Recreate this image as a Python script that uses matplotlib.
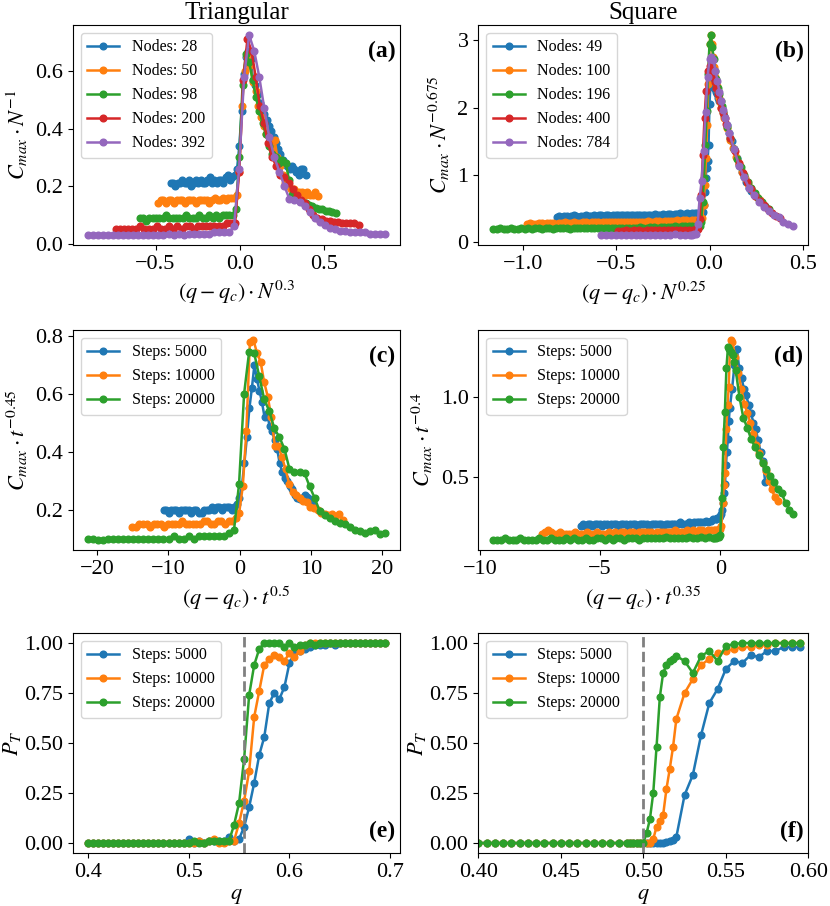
import numpy as np
import matplotlib
matplotlib.use("Agg")
import matplotlib.pyplot as plt

plt.rcParams["font.family"] = "serif"
plt.rcParams["font.serif"] = ["Liberation Serif", "DejaVu Serif"]
plt.rcParams["mathtext.fontset"] = "stix"

# ---- q grids (in thousandths) ----
Q_TRI = np.array([
    400, 405, 410, 415, 420, 425, 430, 435, 440, 445,
    450, 455, 460, 465, 470, 475, 480, 485, 490, 495,
    500, 505, 510, 515, 520, 525, 530, 535, 540, 545,
    550, 555, 560, 565, 570, 575, 580, 585, 590, 595,
    600, 605, 610, 615, 620, 625, 630, 635, 640, 645,
    650, 655, 660, 665, 670, 675, 680, 685, 690, 695]) / 1000

Q_SQ_STEPS = np.array([
    205, 210, 215, 220, 225, 230, 235, 240, 245, 250,
    255, 260, 265, 270, 275, 280, 285, 290, 295, 300,
    305, 310, 315, 320, 325, 330, 335, 340, 345, 350,
    355, 360, 365, 370, 375, 380, 385, 390, 395, 400,
    405, 410, 415, 420, 425, 430, 435, 440, 445, 450,
    455, 460, 465, 470, 475, 480, 485,
    490, 492, 494, 496, 498, 500, 502, 504, 506, 508, 510, 512, 514, 516, 518, 520,
    525, 530, 535, 540, 545, 550, 555, 560, 565, 570, 575, 580, 585, 590, 595]) / 1000

Q_SQ_SMALL = np.array([
    190, 195, 200, 205, 210, 215, 220, 225, 230, 235,
    240, 245, 250, 255, 260, 265, 270, 275, 280, 285,
    290, 295, 300, 305, 310, 315, 320, 325, 330, 335,
    340, 345, 350, 355, 360, 365, 370, 375, 380, 385,
    390, 395, 400, 405, 410, 415, 420, 425, 430, 435,
    440, 445, 450, 455, 460, 465, 470, 475,
    480, 482, 484, 486, 488, 490, 492, 494, 496, 498, 500,
    502, 504, 506, 508, 510, 512, 514, 516, 518, 520,
    525, 530, 535, 540, 545, 550, 555, 560, 565, 570, 575, 580, 585]) / 1000

Q_SQ_LARGE = np.array([
    390, 395, 400, 405, 410, 415, 420, 425, 430, 435,
    440, 445, 450, 455, 460, 465, 470, 475,
    480, 482, 484, 486, 488, 490, 492, 494, 496, 498, 500,
    502, 504, 506, 508, 510, 512, 514, 516, 518, 520,
    525, 530, 535, 540, 545, 550, 555, 560, 565, 570, 575, 580, 585]) / 1000

QC_TRI = 0.5505
QC_SQ = 0.5
QLINE_TRI = 0.555
QLINE_SQ = 0.5

NODES_TRI = [28, 50, 98, 200, 392]
NODES_SQ = [49, 100, 196, 400, 784]
STEPS = [5000, 10000, 20000]

# ---- (a) triangular, node scaling ----
A28 = [0.21, 0.21, 0.20, 0.21, 0.21, 0.22, 0.21, 0.21, 0.22, 0.20,
       0.21, 0.22, 0.21, 0.22, 0.21, 0.21, 0.22, 0.23, 0.21, 0.22,
       0.21, 0.22, 0.22, 0.21, 0.23, 0.24, 0.22, 0.23, 0.24, 0.26,
       0.34, 0.46, 0.59, 0.65, 0.67, 0.64, 0.57, 0.55, 0.52, 0.49,
       0.46, 0.45, 0.43, 0.41, 0.39, 0.37, 0.35, 0.33, 0.31, 0.29,
       0.28, 0.27, 0.26, 0.27, 0.26, 0.25, 0.24, 0.26, 0.26, 0.24]
A50 = [0.14, 0.15, 0.15, 0.14, 0.15, 0.15, 0.14, 0.15, 0.15, 0.15,
       0.14, 0.15, 0.15, 0.15, 0.14, 0.15, 0.15, 0.15, 0.15, 0.14,
       0.15, 0.16, 0.15, 0.15, 0.16, 0.15, 0.16, 0.16, 0.16, 0.17,
       0.25, 0.48, 0.60, 0.65, 0.62, 0.56, 0.53, 0.48, 0.44, 0.41,
       0.38, 0.35, 0.33, 0.36, 0.30, 0.27, 0.24, 0.21, 0.20, 0.19,
       0.19, 0.18, 0.18, 0.18, 0.17, 0.18, 0.17, 0.17, 0.18, 0.165]
A98 = [0.09, 0.09, 0.08, 0.09, 0.09, 0.09, 0.09, 0.09, 0.10, 0.09,
       0.09, 0.09, 0.09, 0.09, 0.10, 0.09, 0.09, 0.09, 0.10, 0.09,
       0.09, 0.10, 0.09, 0.10, 0.09, 0.10, 0.10, 0.10, 0.10, 0.12,
       0.30, 0.55, 0.66, 0.63, 0.57, 0.51, 0.46, 0.42, 0.38, 0.34,
       0.31, 0.30, 0.28, 0.29, 0.28, 0.22, 0.17, 0.16, 0.15, 0.145,
       0.14, 0.135, 0.13, 0.125, 0.12, 0.12, 0.115, 0.115, 0.11, 0.105]
A200 = [0.05, 0.05, 0.05, 0.05, 0.05, 0.05, 0.06, 0.05, 0.05, 0.05,
        0.06, 0.05, 0.05, 0.06, 0.05, 0.06, 0.05, 0.06, 0.06, 0.05,
        0.06, 0.06, 0.06, 0.06, 0.06, 0.06, 0.06, 0.07, 0.07, 0.07,
        0.25, 0.57, 0.71, 0.67, 0.58, 0.48, 0.42, 0.35, 0.30, 0.27,
        0.24, 0.23, 0.21, 0.19, 0.17, 0.15, 0.14, 0.12, 0.10, 0.09,
        0.085, 0.08, 0.08, 0.075, 0.075, 0.07, 0.07, 0.07, 0.07, 0.065]
A392 = [0.03, 0.03, 0.03, 0.03, 0.03, 0.03, 0.03, 0.03, 0.03, 0.03,
        0.03, 0.03, 0.03, 0.03, 0.03, 0.03, 0.035, 0.03, 0.035, 0.03,
        0.035, 0.035, 0.035, 0.035, 0.035, 0.04, 0.04, 0.04, 0.04, 0.06,
        0.26, 0.58, 0.725, 0.67, 0.58, 0.47, 0.37, 0.30, 0.25, 0.20,
        0.155, 0.15, 0.145, 0.13, 0.11, 0.09, 0.075, 0.065, 0.055, 0.05,
        0.045, 0.045, 0.04, 0.04, 0.04, 0.04, 0.035, 0.035, 0.035, 0.035]

# ---- (b) square, node scaling ----
B49 = [0.38, 0.39, 0.38, 0.39, 0.39, 0.38, 0.39, 0.40, 0.39, 0.38,
       0.39, 0.39, 0.40, 0.39, 0.39, 0.40, 0.39, 0.40, 0.40, 0.39,
       0.40, 0.40, 0.39, 0.40, 0.40, 0.41, 0.40, 0.40, 0.41, 0.40,
       0.41, 0.40, 0.41, 0.41, 0.40, 0.41, 0.41, 0.40, 0.41, 0.41,
       0.42, 0.41, 0.41, 0.42, 0.41, 0.42, 0.42, 0.41, 0.42, 0.42,
       0.43, 0.42, 0.42, 0.43, 0.42, 0.43, 0.43, 0.43,
       0.43, 0.43, 0.44, 0.45, 0.55, 0.75, 0.96, 1.10, 1.21, 1.44, 2.06,
       2.36, 2.42, 2.38, 2.33, 2.30, 2.28, 2.24, 2.20, 2.15, 2.10,
       2.00, 1.88, 1.75, 1.62, 1.50, 1.38, 1.26, 1.15, 1.05, 0.97, 0.89, 0.81, 0.76]
B100 = [0.28, 0.29, 0.28, 0.28, 0.29, 0.29, 0.28, 0.29, 0.29, 0.29,
        0.28, 0.29, 0.29, 0.30, 0.29, 0.29, 0.30, 0.29, 0.29, 0.30,
        0.30, 0.29, 0.30, 0.30, 0.30, 0.29, 0.30, 0.30, 0.31, 0.30,
        0.30, 0.31, 0.30, 0.31, 0.31, 0.30, 0.31, 0.31, 0.31, 0.31,
        0.31, 0.32, 0.31, 0.31, 0.32, 0.32, 0.31, 0.32, 0.32, 0.32,
        0.32, 0.33, 0.32, 0.33, 0.33, 0.32, 0.33, 0.33,
        0.33, 0.33, 0.34, 0.34, 0.36, 0.55, 0.85, 1.25, 1.75, 2.35, 2.95,
        3.08, 2.95, 2.75, 2.60, 2.45, 2.33, 2.25, 2.15, 2.08, 2.00,
        1.85, 1.70, 1.52, 1.40, 1.27, 1.16, 1.05, 0.96, 0.87, 0.80, 0.74, 0.68, 0.63]
B196 = [0.20, 0.20, 0.21, 0.20, 0.20, 0.21, 0.20, 0.20, 0.21, 0.20,
        0.21, 0.20, 0.21, 0.21, 0.20, 0.21, 0.21, 0.20, 0.21, 0.21,
        0.21, 0.21, 0.20, 0.21, 0.21, 0.21, 0.22, 0.21, 0.21, 0.22,
        0.21, 0.22, 0.22, 0.21, 0.22, 0.22, 0.22, 0.21, 0.22, 0.22,
        0.22, 0.22, 0.23, 0.22, 0.22, 0.23, 0.23, 0.22, 0.23, 0.23,
        0.23, 0.23, 0.24, 0.23, 0.24, 0.24, 0.24, 0.24,
        0.24, 0.24, 0.25, 0.25, 0.30, 0.60, 0.95, 1.45, 1.95, 2.50, 2.95,
        3.08, 2.90, 2.72, 2.55, 2.42, 2.30, 2.20, 2.10, 2.02, 1.94,
        1.72, 1.55, 1.38, 1.24, 1.12, 1.00, 0.90, 0.81, 0.73, 0.66, 0.60, 0.54, 0.49]
B400 = [0.17, 0.17, 0.18, 0.17, 0.18, 0.18, 0.17, 0.18, 0.18, 0.18,
        0.18, 0.18, 0.19, 0.18, 0.18, 0.19, 0.19, 0.19,
        0.19, 0.19, 0.20, 0.20, 0.35, 0.70, 1.30, 1.85, 2.25, 2.55, 2.62,
        2.55, 2.45, 2.38, 2.30, 2.20, 2.10, 2.00, 1.92, 1.84, 1.76,
        1.55, 1.35, 1.18, 1.03, 0.90, 0.79, 0.69, 0.62, 0.55, 0.49, 0.44, 0.39, 0.36]
B784 = [0.11, 0.11, 0.11, 0.11, 0.11, 0.11, 0.11, 0.11, 0.11, 0.11,
        0.11, 0.11, 0.11, 0.11, 0.11, 0.12, 0.11, 0.11,
        0.11, 0.11, 0.12, 0.13, 0.27, 0.66, 0.91, 1.36, 1.94, 2.46, 2.72,
        2.76, 2.71, 2.55, 2.40, 2.24, 2.10, 1.97, 1.85, 1.74, 1.62,
        1.38, 1.14, 0.97, 0.81, 0.70, 0.60, 0.53, 0.47, 0.41, 0.37, 0.31, 0.28, 0.25]

# ---- (c) triangular, step scaling ----
C5000 = [0.20, 0.20, 0.19, 0.20, 0.20, 0.20, 0.19, 0.20, 0.20, 0.20,
         0.20, 0.19, 0.20, 0.20, 0.19, 0.19, 0.20, 0.20, 0.20, 0.21,
         0.20, 0.21, 0.21, 0.20, 0.21, 0.21, 0.21, 0.20, 0.21, 0.22,
         0.24, 0.28, 0.36, 0.45, 0.55, 0.62, 0.70, 0.65, 0.61, 0.57,
         0.52, 0.53, 0.49, 0.47, 0.44, 0.41, 0.36, 0.33, 0.31, 0.30,
         0.28, 0.27, 0.25, 0.24, 0.235, 0.24, 0.25, 0.245, 0.235, 0.22]
C10000 = [0.14, 0.14, 0.15, 0.15, 0.15, 0.14, 0.15, 0.15, 0.15, 0.14,
          0.15, 0.15, 0.15, 0.15, 0.16, 0.15, 0.15, 0.15, 0.15, 0.15,
          0.16, 0.16, 0.15, 0.15, 0.16, 0.16, 0.15, 0.16, 0.16, 0.17,
          0.19, 0.28, 0.47, 0.78, 0.785, 0.74, 0.71, 0.64, 0.59, 0.52,
          0.42, 0.42, 0.38, 0.34, 0.29, 0.26, 0.25, 0.24, 0.23, 0.225,
          0.21, 0.205, 0.20, 0.19, 0.185, 0.18, 0.185, 0.175, 0.185, 0.165]
C20000 = [0.10, 0.10, 0.095, 0.095, 0.10, 0.10, 0.10, 0.10, 0.10, 0.10,
          0.10, 0.10, 0.10, 0.10, 0.10, 0.10, 0.10, 0.11, 0.10, 0.10,
          0.11, 0.10, 0.11, 0.11, 0.11, 0.11, 0.11, 0.11, 0.12, 0.13,
          0.29, 0.60, 0.745, 0.74, 0.66, 0.58, 0.54, 0.48, 0.45, 0.41,
          0.34, 0.33, 0.33, 0.325, 0.28, 0.24, 0.195, 0.18, 0.17, 0.16,
          0.155, 0.15, 0.14, 0.13, 0.125, 0.12, 0.125, 0.13, 0.115, 0.12]

# ---- (d) square, step scaling ----
D5000 = [0.20, 0.21, 0.20, 0.21, 0.21, 0.20, 0.21, 0.21, 0.21, 0.20,
         0.21, 0.21, 0.20, 0.21, 0.21, 0.21, 0.20, 0.21, 0.21, 0.21,
         0.20, 0.21, 0.21, 0.21, 0.20, 0.21, 0.21, 0.21, 0.21, 0.20,
         0.21, 0.21, 0.21, 0.21, 0.21, 0.20, 0.21, 0.21, 0.21, 0.21,
         0.21, 0.21, 0.22, 0.21, 0.21, 0.21, 0.22, 0.21, 0.22, 0.22,
         0.22, 0.22, 0.22, 0.23, 0.22, 0.23, 0.24,
         0.24, 0.24, 0.25, 0.25, 0.25, 0.26, 0.27, 0.30, 0.34, 0.40, 0.46, 0.58, 0.66, 0.74, 0.85, 0.93,
         1.05, 1.20, 1.30, 1.18, 1.12, 1.05, 1.01, 0.95, 0.90, 0.84, 0.80, 0.73, 0.66, 0.60, 0.47]
D10000 = [0.15, 0.16, 0.17, 0.16, 0.15, 0.15, 0.16, 0.15, 0.15, 0.15,
          0.15, 0.16, 0.15, 0.15, 0.15, 0.16, 0.15, 0.15, 0.16, 0.15,
          0.15, 0.15, 0.16, 0.15, 0.16, 0.15, 0.16, 0.16, 0.15, 0.16,
          0.16, 0.15, 0.16, 0.16, 0.16, 0.16, 0.16, 0.15, 0.16, 0.16,
          0.16, 0.16, 0.16, 0.16, 0.17, 0.16, 0.16, 0.16, 0.17, 0.16,
          0.17, 0.16, 0.17, 0.17, 0.16, 0.17, 0.17,
          0.17, 0.17, 0.17, 0.17, 0.18, 0.18, 0.20, 0.34, 0.45, 0.53, 0.80, 0.95, 1.06, 1.30, 1.355, 1.34,
          1.25, 1.15, 1.05, 0.96, 0.90, 0.84, 0.77, 0.70, 0.65, 0.59, 0.54, 0.48, 0.43, 0.38, 0.35]
D20000 = [0.11, 0.11, 0.11, 0.12, 0.11, 0.11, 0.11, 0.12, 0.11, 0.11,
          0.11, 0.11, 0.12, 0.11, 0.11, 0.12, 0.11, 0.11, 0.11, 0.12,
          0.11, 0.12, 0.11, 0.11, 0.12, 0.11, 0.11, 0.12, 0.12, 0.11,
          0.12, 0.11, 0.12, 0.12, 0.11, 0.12, 0.12, 0.12, 0.11, 0.12,
          0.12, 0.12, 0.12, 0.12, 0.12, 0.13, 0.12, 0.12, 0.12, 0.12,
          0.12, 0.13, 0.12, 0.12, 0.13, 0.12, 0.13,
          0.12, 0.12, 0.125, 0.13, 0.13, 0.14, 0.37, 0.69, 0.91, 1.18, 1.31, 1.30, 1.28, 1.26, 1.22, 1.17,
          1.00, 0.87, 0.81, 0.74, 0.69, 0.64, 0.59, 0.55, 0.51, 0.47, 0.43, 0.40, 0.34, 0.30, 0.27]

# ---- (e) triangular, transition probability ----
E5000 = [0, 0, 0, 0, 0, 0, 0, 0, 0, 0,
         0, 0, 0, 0, 0, 0, 0, 0, 0, 0,
         0.02, 0.0, 0.01, 0.0, 0.01, 0.01, 0.01, 0.01, 0.03, 0.01,
         0.02, 0.08, 0.18, 0.30, 0.44, 0.53, 0.70, 0.75, 0.72, 0.78,
         0.90, 0.95, 0.96, 0.97, 0.98, 0.99, 0.99, 0.99, 1.0, 0.99,
         1.0, 1.0, 1.0, 1.0, 1.0, 1.0, 1.0, 1.0, 1.0, 1.0]
E10000 = [0, 0, 0, 0, 0, 0, 0, 0, 0, 0,
          0, 0, 0, 0, 0, 0, 0, 0, 0, 0,
          0.0, 0.0, 0.01, 0.0, 0.01, 0.02, 0.0, 0.0, 0.01, 0.01,
          0.10, 0.21, 0.36, 0.63, 0.76, 0.89, 0.92, 0.94, 0.93, 0.91,
          0.95, 0.93, 0.96, 0.99, 1.0, 1.0, 1.0, 1.0, 1.0, 1.0,
          1.0, 1.0, 1.0, 1.0, 1.0, 1.0, 1.0, 1.0, 1.0, 1.0]
E20000 = [0, 0, 0, 0, 0, 0, 0, 0, 0, 0,
          0, 0, 0, 0, 0, 0, 0, 0, 0, 0,
          0.0, 0.01, 0.0, 0.0, 0.01, 0.01, 0.01, 0.01, 0.01, 0.09,
          0.20, 0.42, 0.74, 0.89, 0.97, 1.0, 1.0, 1.0, 1.0, 0.98,
          1.0, 0.98, 0.99, 0.99, 1.0, 0.99, 1.0, 1.0, 1.0, 1.0,
          1.0, 1.0, 1.0, 1.0, 1.0, 1.0, 1.0, 1.0, 1.0, 1.0]

# ---- (f) square, transition probability ----
F5000 = [0, 0, 0, 0, 0, 0, 0, 0, 0, 0,
         0, 0, 0, 0, 0, 0, 0, 0, 0, 0,
         0, 0, 0, 0, 0, 0, 0, 0, 0, 0,
         0, 0, 0, 0, 0, 0, 0, 0, 0, 0,
         0, 0, 0, 0, 0, 0, 0, 0, 0, 0,
         0, 0, 0, 0, 0, 0, 0,
         0, 0, 0, 0, 0, 0, 0, 0, 0, 0, 0, 0, 0.005, 0.01, 0.015, 0.03,
         0.24, 0.34, 0.54, 0.70, 0.77, 0.87, 0.91, 0.90, 0.94, 0.93, 0.96, 0.96, 0.98, 0.98, 0.98]
F10000 = [0, 0, 0, 0, 0, 0, 0, 0, 0, 0,
          0, 0, 0, 0, 0, 0, 0, 0, 0, 0,
          0, 0, 0, 0, 0, 0, 0, 0, 0, 0,
          0, 0, 0, 0, 0, 0, 0, 0, 0, 0,
          0, 0, 0, 0, 0, 0, 0, 0, 0, 0,
          0, 0, 0, 0, 0, 0, 0,
          0, 0, 0, 0, 0, 0, 0, 0, 0.02, 0.08, 0.11, 0.14, 0.27, 0.37, 0.48, 0.62,
          0.75, 0.82, 0.89, 0.92, 0.95, 0.96, 0.97, 0.98, 0.98, 0.99, 0.99, 1.0, 1.0, 1.0, 1.0]
F20000 = [0, 0, 0, 0, 0, 0, 0, 0, 0, 0,
          0, 0, 0, 0, 0, 0, 0, 0, 0, 0,
          0, 0, 0, 0, 0, 0, 0, 0, 0, 0,
          0, 0, 0, 0, 0, 0, 0, 0, 0, 0,
          0, 0, 0, 0, 0, 0, 0, 0, 0, 0,
          0, 0, 0, 0, 0, 0, 0,
          0, 0, 0, 0, 0, 0, 0.05, 0.12, 0.25, 0.48, 0.73, 0.85, 0.89, 0.91, 0.92, 0.935,
          0.91, 0.85, 0.935, 0.96, 0.91, 0.985, 0.995, 1.0, 1.0, 1.0, 1.0, 1.0, 1.0, 1.0, 1.0]


def draw(ax, xs, ys, labels):
    for x, y, lab in zip(xs, ys, labels):
        ax.plot(x, y, "-o", lw=1.8, ms=4.8, label=lab)
    ax.tick_params(labelsize=16)


def tag(ax, text, top=True):
    if top:
        ax.text(0.985, 0.93, text, transform=ax.transAxes, ha="right", va="top",
                fontsize=17, fontweight="bold")
    else:
        ax.text(0.985, 0.05, text, transform=ax.transAxes, ha="right", va="bottom",
                fontsize=17, fontweight="bold")


fig = plt.figure(figsize=(8.3, 9.06), dpi=100)
# left column nudged a few pixels right so the P_T label stays inside the canvas
lw_, rw_, h = 0.3940, 0.3976, 0.2428
ax_a = fig.add_axes([0.0880, 0.7296, lw_, h])
ax_b = fig.add_axes([0.5763, 0.7296, rw_, h])
ax_c = fig.add_axes([0.0880, 0.3929, lw_, h])
ax_d = fig.add_axes([0.5763, 0.3929, rw_, h])
ax_e = fig.add_axes([0.0880, 0.0585, lw_, h])
ax_f = fig.add_axes([0.5763, 0.0585, rw_, h])

# (a)
draw(ax_a, [(Q_TRI - QC_TRI) * n ** 0.3 for n in NODES_TRI],
     [A28, A50, A98, A200, A392], [f"Nodes: {n}" for n in NODES_TRI])
ax_a.set_title("Triangular", fontsize=18, pad=4)
ax_a.set_xticks([-0.5, 0.0, 0.5])
ax_a.set_yticks([0.0, 0.2, 0.4, 0.6])
ax_a.set_xlabel(r"$(q - q_c) \cdot N^{0.3}$", fontsize=16)
ax_a.set_ylabel(r"$C_{max} \cdot N^{-1}$", fontsize=16)
ax_a.legend(loc="upper left", fontsize=11.5)
tag(ax_a, "(a)")

# (b)
grids_b = [Q_SQ_SMALL, Q_SQ_SMALL, Q_SQ_SMALL, Q_SQ_LARGE, Q_SQ_LARGE]
draw(ax_b, [(g - QC_SQ) * n ** 0.25 for g, n in zip(grids_b, NODES_SQ)],
     [B49, B100, B196, B400, B784], [f"Nodes: {n}" for n in NODES_SQ])
ax_b.set_title("Square", fontsize=18, pad=4)
ax_b.set_xticks([-1.0, -0.5, 0.0, 0.5])
ax_b.set_yticks([0, 1, 2, 3])
ax_b.set_xlabel(r"$(q - q_c) \cdot N^{0.25}$", fontsize=16)
ax_b.set_ylabel(r"$C_{max} \cdot N^{-0.675}$", fontsize=16)
ax_b.legend(loc="upper left", fontsize=11.5)
tag(ax_b, "(b)")

# (c)
draw(ax_c, [(Q_TRI - QC_TRI) * s ** 0.5 for s in STEPS],
     [C5000, C10000, C20000], [f"Steps: {s}" for s in STEPS])
ax_c.set_xticks([-20, -10, 0, 10, 20])
ax_c.set_yticks([0.2, 0.4, 0.6, 0.8])
ax_c.set_xlabel(r"$(q - q_c) \cdot t^{0.5}$", fontsize=16)
ax_c.set_ylabel(r"$C_{max} \cdot t^{-0.45}$", fontsize=16)
ax_c.legend(loc="upper left", fontsize=11.5)
tag(ax_c, "(c)")

# (d)
draw(ax_d, [(Q_SQ_STEPS - QC_SQ) * s ** 0.35 for s in STEPS],
     [D5000, D10000, D20000], [f"Steps: {s}" for s in STEPS])
ax_d.set_xticks([-10, -5, 0])
ax_d.set_yticks([0.5, 1.0])
ax_d.set_xlabel(r"$(q - q_c) \cdot t^{0.35}$", fontsize=16)
ax_d.set_ylabel(r"$C_{max} \cdot t^{-0.4}$", fontsize=16)
ax_d.legend(loc="upper left", fontsize=11.5)
tag(ax_d, "(d)")

# (e)
draw(ax_e, [Q_TRI] * 3, [E5000, E10000, E20000], [f"Steps: {s}" for s in STEPS])
ax_e.axvline(QLINE_TRI, color="gray", ls="--", lw=2)
ax_e.set_xticks([0.4, 0.5, 0.6, 0.7])
ax_e.set_yticks([0.0, 0.25, 0.5, 0.75, 1.0])
ax_e.set_yticklabels(["0.00", "0.25", "0.50", "0.75", "1.00"])
ax_e.set_xlabel(r"$q$", fontsize=16)
ax_e.set_ylabel(r"$P_T$", fontsize=16, labelpad=1)
ax_e.legend(loc="upper left", fontsize=11.5)
tag(ax_e, "(e)", top=False)

# (f)
draw(ax_f, [Q_SQ_STEPS] * 3, [F5000, F10000, F20000], [f"Steps: {s}" for s in STEPS])
ax_f.axvline(QLINE_SQ, color="gray", ls="--", lw=2)
ax_f.set_xlim(0.4, 0.6)
ax_f.set_xticks([0.40, 0.45, 0.50, 0.55, 0.60])
ax_f.set_xticklabels(["0.40", "0.45", "0.50", "0.55", "0.60"])
ax_f.set_yticks([0.0, 0.25, 0.5, 0.75, 1.0])
ax_f.set_yticklabels(["0.00", "0.25", "0.50", "0.75", "1.00"])
ax_f.set_xlabel(r"$q$", fontsize=16)
ax_f.set_ylabel(r"$P_T$", fontsize=16, labelpad=1)
ax_f.legend(loc="upper left", fontsize=11.5)
tag(ax_f, "(f)", top=False)

fig.savefig("out.png", dpi=100)
